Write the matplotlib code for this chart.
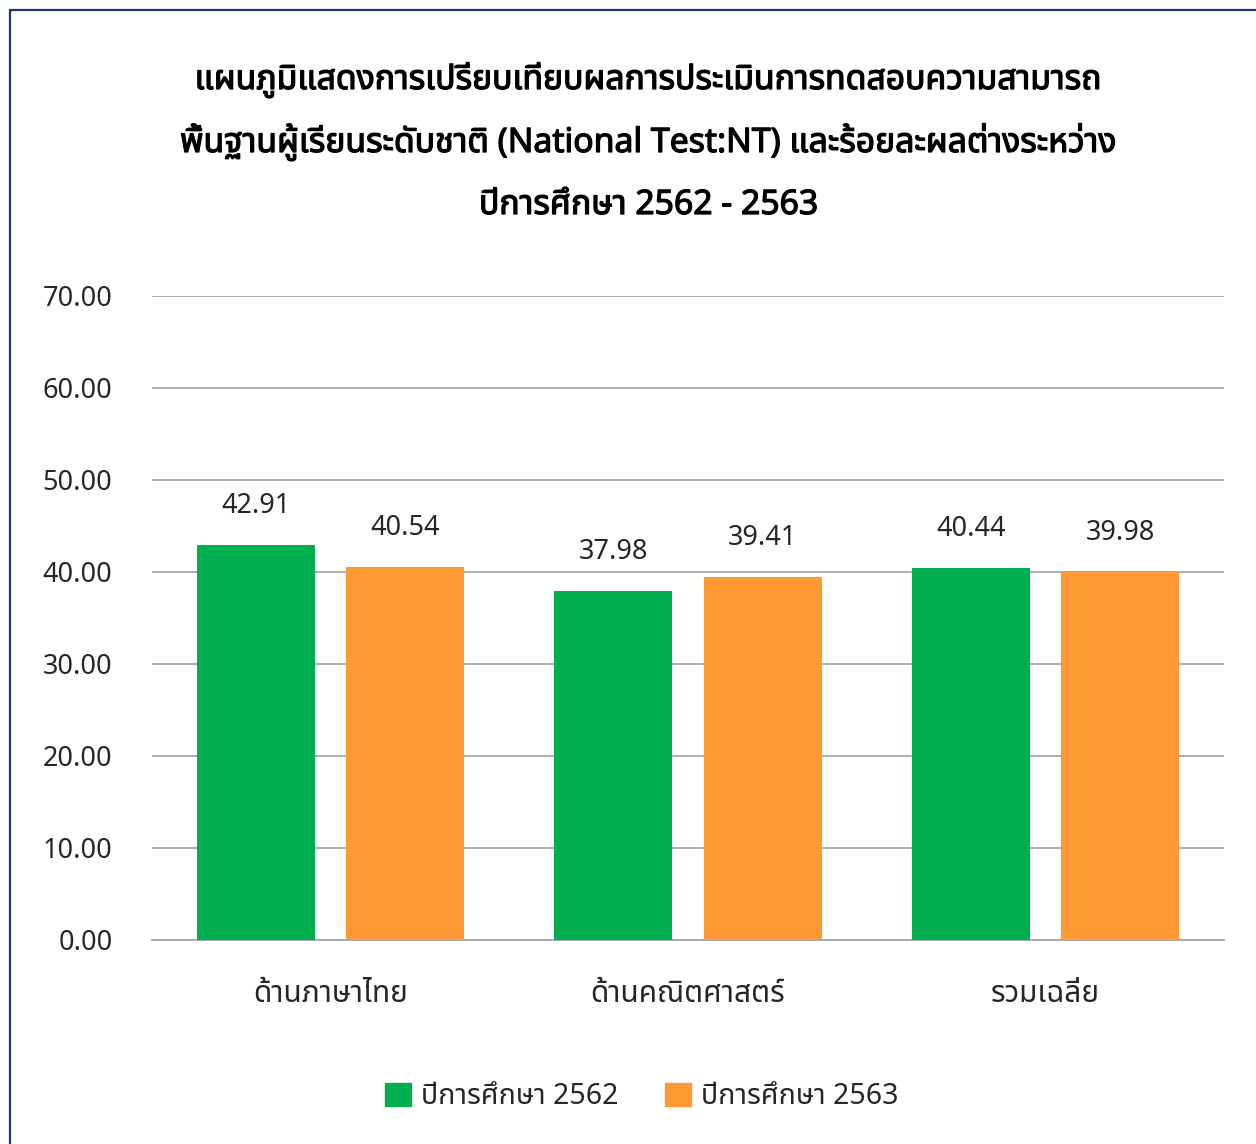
import matplotlib
matplotlib.use("Agg")
import matplotlib.pyplot as plt
from matplotlib import font_manager
from matplotlib.patches import Rectangle, Patch
import matplotlib.patheffects as pe
import numpy as np

categories = ["ด้านภาษาไทย", "ด้านคณิตศาสตร์", "รวมเฉลี่ย"]
series_names = ["ปีการศึกษา 2562", "ปีการศึกษา 2563"]
values_2562 = [42.91, 37.98, 40.44]
values_2563 = [40.54, 39.41, 39.98]
yticks = [0, 10, 20, 30, 40, 50, 60, 70]
title_lines = [
    "แผนภูมิแสดงการเปรียบเทียบผลการประเมินการทดสอบความสามารถ",
    "พื้นฐานผู้เรียนระดับชาติ (National Test:NT) และร้อยละผลต่างระหว่าง",
    "ปีการศึกษา 2562 - 2563",
]

# find a family with (loopless) Thai glyphs
thai_family = None
has_bold = False
try:
    from fontTools.ttLib import TTFont
    prefs = ["Noto Sans Thai", "Noto Sans Thai UI", "Leelawadee UI", "Tahoma", "Sarabun", "Garuda", "Loma", "Waree"]
    found = {}
    for fe in font_manager.fontManager.ttflist:
        try:
            f = TTFont(fe.fname, fontNumber=0, lazy=True)
            cmap = f.getBestCmap()
            if cmap and 0x0E01 in cmap and 0x0E34 in cmap:
                wt = fe.weight if isinstance(fe.weight, int) else 400
                found.setdefault(fe.name, set()).add(wt)
        except Exception:
            pass
    ordered = [p for p in prefs if p in found] + sorted(n for n in found if n not in prefs)
    if ordered:
        thai_family = ordered[0]
        has_bold = any(wt >= 600 for wt in found[thai_family])
except Exception:
    pass

families = ([thai_family] if thai_family else []) + ["DejaVu Sans"]
plt.rcParams["font.family"] = families

green = "#00B050"
orange = "#FF9933"
text_color = "#262626"

fig = plt.figure(figsize=(12.56, 11.44), dpi=100)
fig.patch.set_facecolor("white")

# border
fig.add_artist(Rectangle((10 / 1256, -0.05), 1.2, 1 - 10 / 1144 + 0.05,
                         transform=fig.transFigure, fill=False,
                         edgecolor="#203864", linewidth=1.6))

ax = fig.add_axes([152 / 1256, 1 - 940 / 1144, (1224 - 152) / 1256, (940 - 296) / 1144])
x = np.arange(len(categories))
w = 0.33
off = 0.209
b1 = ax.bar(x - off, values_2562, w, color=green, zorder=3, label=series_names[0])
b2 = ax.bar(x + off, values_2563, w, color=orange, zorder=3, label=series_names[1])

ax.set_xlim(-0.5, 2.5)
ax.set_ylim(0, 70)
ax.set_yticks(yticks)
ax.set_yticklabels([f"{v:.2f}" for v in yticks], fontsize=19.5, color=text_color)
ax.set_xticks(x)
ax.set_xticklabels(categories, fontsize=21.5, color=text_color)
ax.tick_params(axis="both", length=0)
ax.tick_params(axis="y", pad=28.5)
ax.tick_params(axis="x", pad=29)
ax.grid(axis="y", color="#A6A6A6", linewidth=1.3, zorder=0)
for s in ["top", "right", "left"]:
    ax.spines[s].set_visible(False)
ax.spines["bottom"].set_color("#A6A6A6")
ax.spines["bottom"].set_linewidth(1.3)

for bars, vals in ((b1, values_2562), (b2, values_2563)):
    for r, v in zip(bars, vals):
        ax.annotate(f"{v:.2f}", (r.get_x() + r.get_width() / 2, v),
                    xytext=(0, 18), textcoords="offset points",
                    ha="center", va="bottom", fontsize=19.5, color=text_color)

ys = [1 - 80 / 1144, 1 - 142 / 1144, 1 - 205 / 1144]
for t, yy in zip(title_lines, ys):
    txt = fig.text(0.5165, yy, t, ha="center", va="center",
                   fontsize=23.4 if has_bold else 24.3,
                   fontweight="bold", color="black")
    if not has_bold:
        txt.set_path_effects([pe.withStroke(linewidth=0.9, foreground="black")])

handles = [Patch(color=green), Patch(color=orange)]
fig.legend(handles, series_names, loc="center", bbox_to_anchor=(0.511, 1 - 1097 / 1144),
           ncol=2, frameon=False, fontsize=20.5, handlelength=0.9, handleheight=0.9,
           columnspacing=1.65, handletextpad=0.35, labelcolor=text_color)

fig.savefig("out.png", dpi=100, facecolor="white")
